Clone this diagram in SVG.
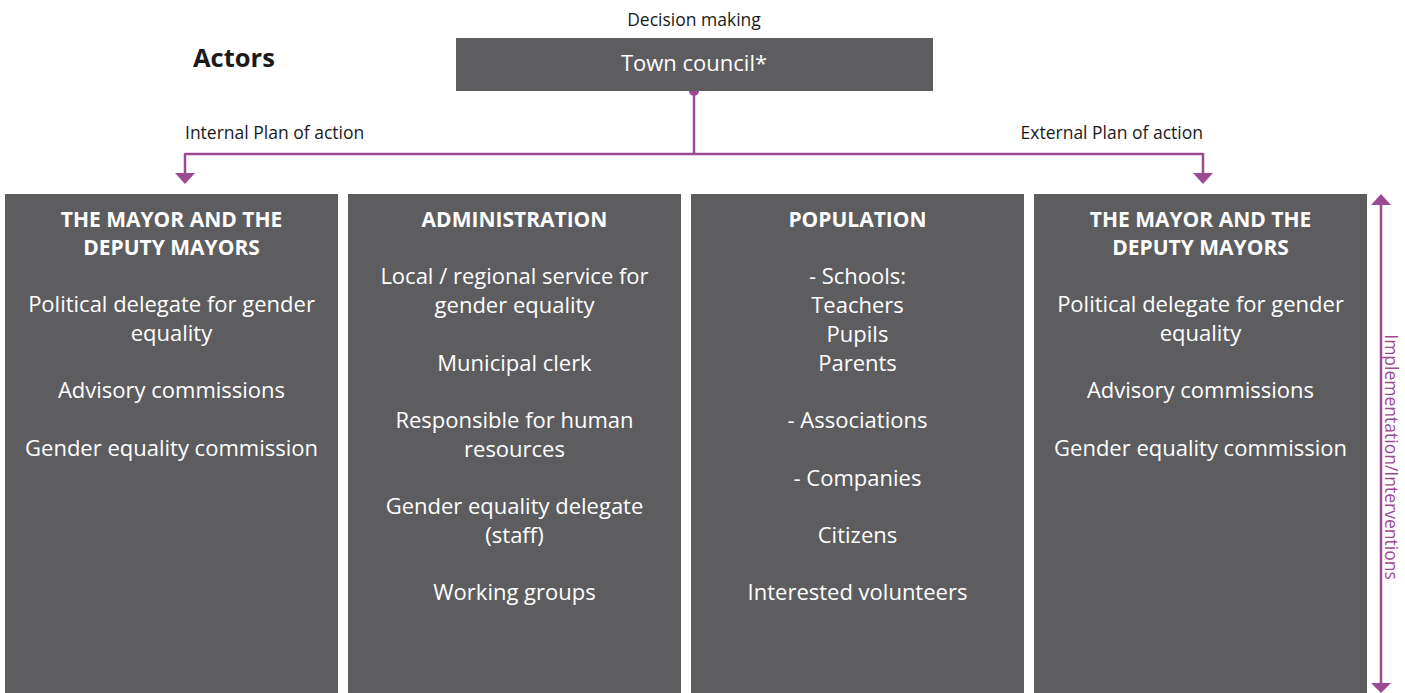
<svg xmlns="http://www.w3.org/2000/svg" width="1405" height="693" viewBox="0 0 1405 693">
<defs>
<style>
.box{fill:#5d5d5f}
.t{font-family:"Open Sans","Noto Sans",sans-serif;fill:#ffffff;font-size:22px;text-anchor:middle}
.h{font-family:"Open Sans","Noto Sans",sans-serif;fill:#ffffff;font-size:21px;font-weight:bold;text-anchor:middle}
.lbl{font-family:"Open Sans","Noto Sans",sans-serif;fill:#1a1a1a;font-size:17.5px}
.conn{stroke:#9c4a94;stroke-width:2.5;fill:none}
.ah{fill:#9c4a94}
</style>
</defs>
<rect width="1405" height="693" fill="#ffffff"/>

<text x="193" y="67" style="font-family:'Open Sans','Noto Sans',sans-serif;font-size:25.5px;font-weight:bold;fill:#1a1a1a">Actors</text>
<text x="694" y="26" class="lbl" text-anchor="middle">Decision making</text>
<text x="185" y="139" class="lbl">Internal Plan of action</text>
<text x="1203" y="139" class="lbl" text-anchor="end">External Plan of action</text>

<g id="connectors">
<circle cx="694" cy="91" r="5" class="ah"/>
<path class="conn" d="M694,91 V154 M185,154 H1203"/>
<path class="conn" d="M185,153 V174"/>
<path class="ah" d="M175,173 L195,173 L185,184 z"/>
<path class="conn" d="M1203,153 V174"/>
<path class="ah" d="M1193,173 L1213,173 L1203,184 z"/>
<path class="conn" d="M1381,204 V684"/>
<path class="ah" d="M1371,205 L1391,205 L1381,194 z"/>
<path class="ah" d="M1371,683 L1391,683 L1381,693 z"/>
</g>
<text transform="translate(1385,457) rotate(90)" text-anchor="middle" style="font-family:'Open Sans','Noto Sans',sans-serif;font-size:17.5px;fill:#9c4a94">Implementation/Interventions</text>

<g id="town-council">
<rect class="box" x="456" y="38" width="477" height="53"/>
<text class="t" x="694" y="71">Town council*</text>
</g>

<g id="mayor-left">
<rect class="box" x="5" y="194" width="333" height="499"/>
<text class="h" x="171.5" y="227">THE MAYOR AND THE</text>
<text class="h" x="171.5" y="255">DEPUTY MAYORS</text>
<text class="t" x="171.5" y="312">Political delegate for gender</text>
<text class="t" x="171.5" y="341">equality</text>
<text class="t" x="171.5" y="398">Advisory commissions</text>
<text class="t" x="171.5" y="456">Gender equality commission</text>
</g>

<g id="administration">
<rect class="box" x="348" y="194" width="333" height="499"/>
<text class="h" x="514.5" y="227">ADMINISTRATION</text>
<text class="t" x="514.5" y="284">Local / regional service for</text>
<text class="t" x="514.5" y="313">gender equality</text>
<text class="t" x="514.5" y="371">Municipal clerk</text>
<text class="t" x="514.5" y="428">Responsible for human</text>
<text class="t" x="514.5" y="457">resources</text>
<text class="t" x="514.5" y="514">Gender equality delegate</text>
<text class="t" x="514.5" y="543">(staff)</text>
<text class="t" x="514.5" y="600">Working groups</text>
</g>

<g id="population">
<rect class="box" x="691" y="194" width="333" height="499"/>
<text class="h" x="857.5" y="227">POPULATION</text>
<text class="t" x="857.5" y="284">- Schools:</text>
<text class="t" x="857.5" y="313">Teachers</text>
<text class="t" x="857.5" y="342">Pupils</text>
<text class="t" x="857.5" y="371">Parents</text>
<text class="t" x="857.5" y="428">- Associations</text>
<text class="t" x="857.5" y="486">- Companies</text>
<text class="t" x="857.5" y="543">Citizens</text>
<text class="t" x="857.5" y="600">Interested volunteers</text>
</g>

<g id="mayor-right">
<rect class="box" x="1034" y="194" width="333" height="499"/>
<text class="h" x="1200.5" y="227">THE MAYOR AND THE</text>
<text class="h" x="1200.5" y="255">DEPUTY MAYORS</text>
<text class="t" x="1200.5" y="312">Political delegate for gender</text>
<text class="t" x="1200.5" y="341">equality</text>
<text class="t" x="1200.5" y="398">Advisory commissions</text>
<text class="t" x="1200.5" y="456">Gender equality commission</text>
</g>
</svg>
